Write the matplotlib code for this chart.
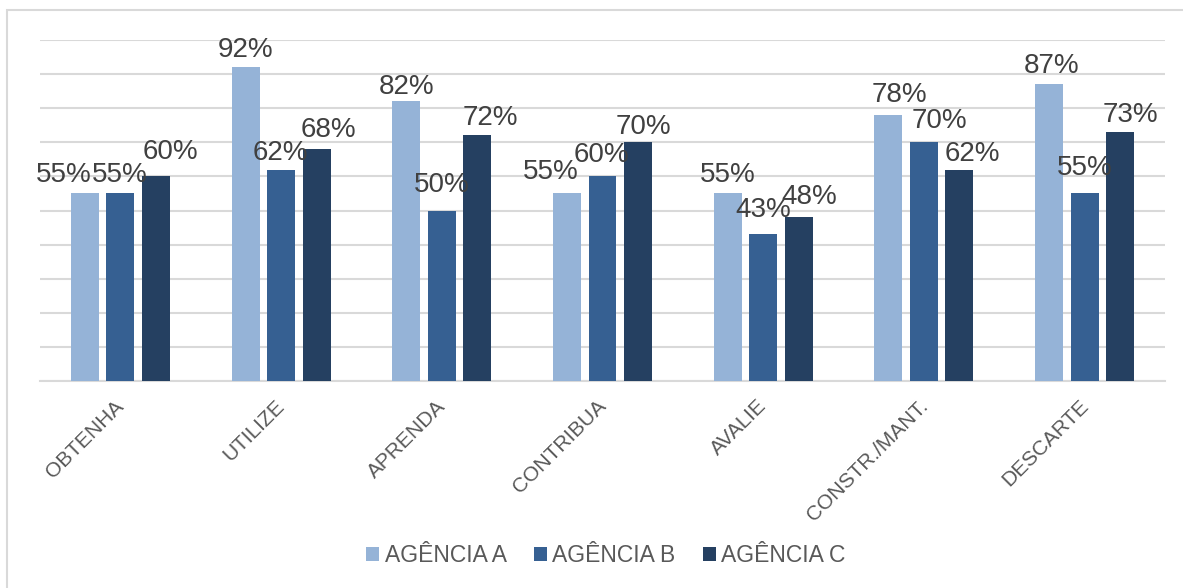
import matplotlib.pyplot as plt
import matplotlib.transforms as mtransforms
import numpy as np
from matplotlib.patches import Rectangle

plt.rcParams['font.family'] = ['Liberation Sans', 'DejaVu Sans']

categories = ['OBTENHA', 'UTILIZE', 'APRENDA', 'CONTRIBUA', 'AVALIE', 'CONSTR./MANT.', 'DESCARTE']
agencia_a = [55, 92, 82, 55, 55, 78, 87]
agencia_b = [55, 62, 50, 60, 43, 70, 55]
agencia_c = [60, 68, 72, 70, 48, 62, 73]
series_names = ['AGÊNCIA A', 'AGÊNCIA B', 'AGÊNCIA C']
colors = ['#95B3D7', '#366092', '#254061']

# data label nudges (pixels) as placed in the original chart
label_dx = [[-21, 0, 0, -16, 0, 11, 2],
            [-1, -1, 0, -1, 0, 16, 0],
            [15, 12, 13, 5, 11, 13, 10]]
label_dy = [[11, 10, 7, 14, 11, 13, 11],
            [11, 10, 18, 14, 17, 14, 18],
            [17, 12, 10, 8, 13, 9, 10]]

fig = plt.figure(figsize=(11.83, 5.88), dpi=100)
ax = fig.add_axes([40/1183, 1-381/588, 1125/1183, 341/588])

x = np.arange(len(categories))
w = 0.174
step = 0.221
for k, vals in enumerate([agencia_a, agencia_b, agencia_c]):
    pos = x + (k-1)*step
    ax.bar(pos, vals, width=w, color=colors[k], label=series_names[k], zorder=3)
    for i, (px, v) in enumerate(zip(pos, vals)):
        ax.annotate(f'{v}%', (px, v), xytext=(label_dx[k][i]*0.72, label_dy[k][i]*0.72),
                    textcoords='offset points', ha='center', va='baseline',
                    fontsize=20, color='#404040', zorder=4)

ax.set_xlim(-0.5, len(categories)-0.5)
ax.set_ylim(0, 100)
ax.set_yticks(np.arange(0, 101, 10))
ax.set_yticklabels([])
ax.tick_params(axis='y', length=0)
ax.tick_params(axis='x', length=0, pad=6)
ax.yaxis.grid(True, color='#d9d9d9', lw=1.5, zorder=0)
for s in ['top', 'right', 'left']:
    ax.spines[s].set_visible(False)
ax.spines['bottom'].set_color('#d9d9d9')
ax.spines['bottom'].set_linewidth(1.5)
ax.set_xticks(x)
ax.set_xticklabels(categories, rotation=45, ha='right', rotation_mode='anchor',
                   fontsize=15, color='#595959')
shift = mtransforms.ScaledTranslation(-6/100, -7/100, fig.dpi_scale_trans)
for lab in ax.get_xticklabels():
    lab.set_transform(lab.get_transform() + shift)

fig.legend(loc='center', bbox_to_anchor=(606/1183, 1-556/588), ncol=3, frameon=False,
           fontsize=16.5, labelcolor='#595959', handlelength=0.55, handleheight=0.55,
           handletextpad=0.25, columnspacing=1.2)

fig.patches.append(Rectangle((7/1183, -0.02), 1.1, 1-10/588+0.02, transform=fig.transFigure,
                             fill=False, edgecolor='#d9d9d9', lw=1.5))

plt.savefig('out.png', dpi=100)
